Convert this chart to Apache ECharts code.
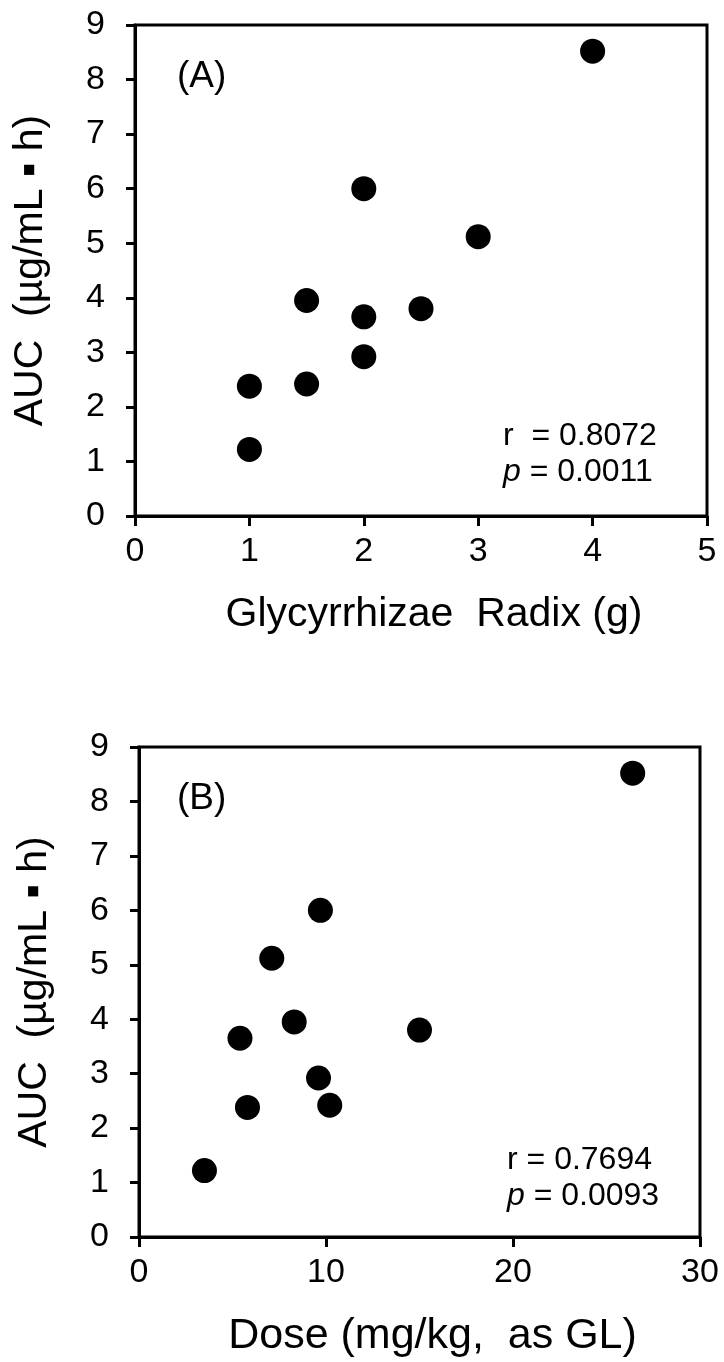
<!DOCTYPE html>
<html>
<head>
<meta charset="utf-8">
<script src="https://cdn.jsdelivr.net/npm/echarts@6/dist/echarts.min.js"></script>
<style>
html,body{margin:0;padding:0;background:#fff;}
#chart{width:724px;height:1362px;}
</style>
</head>
<body>
<div id="chart"></div>
<script>
// Panel A: Glycyrrhizae Radix (g) vs AUC
const radixA = [1, 1, 1.5, 1.5, 2, 2, 2, 2.5, 3, 4];
const aucA   = [1.22, 2.38, 2.42, 3.95, 2.92, 3.65, 6.0, 3.8, 5.12, 8.52];
// Panel B: Dose (mg/kg, as GL) vs AUC
const doseB  = [3.5, 5.8, 10.2, 8.3, 9.6, 5.4, 9.7, 15.0, 7.1, 26.4];
const aucB   = [1.22, 2.38, 2.42, 3.95, 2.92, 3.65, 6.0, 3.8, 5.12, 8.52];

const statsA = { r: '0.8072', p: '0.0011' };
const statsB = { r: '0.7694', p: '0.0093' };

const FONT = "'Liberation Sans', Arial, sans-serif";
const yName = 'AUC  (\u00b5g/mL \u25aa h)';

function pairs(xs, ys){ return xs.map((x,i)=>[x, ys[i]]); }

const axisCommon = {
  axisLine:{show:true, onZero:false, lineStyle:{color:'#000', width:3}},
  axisTick:{show:true, inside:false, length:10, lineStyle:{color:'#000', width:3}},
  splitLine:{show:false},
  nameTextStyle:{color:'#000', fontFamily:FONT, fontSize:41},
  axisLabel:{color:'#000', fontFamily:FONT, fontSize:34}
};

function xAx(grid, min, max, interval, name, size){
  return Object.assign({}, axisCommon, {
    type:'value', gridIndex:grid, min, max, interval,
    name, nameLocation:'middle', nameGap:78,
    nameTextStyle:{color:'#000', fontFamily:FONT, fontSize:size, padding:[0,0,0,26]},
    axisLabel:Object.assign({}, axisCommon.axisLabel, {margin:19})
  });
}
function yAx(grid){
  return Object.assign({}, axisCommon, {
    type:'value', gridIndex:grid, min:0, max:9, interval:1,
    name:yName, nameLocation:'middle', nameGap:84,
    axisLabel:Object.assign({}, axisCommon.axisLabel, {margin:30}),
    axisTick:{show:true, inside:false, length:9, lineStyle:{color:'#000', width:3}}
  });
}

function statText(left, top, stats, rSpace){
  return {
    type:'text', left, top,
    style:{
      text:'{n|r' + rSpace + '= ' + stats.r + '}\n{i|p}{n| = ' + stats.p + '}',
      rich:{
        n:{fontFamily:FONT, fontSize:32, fill:'#000', lineHeight:36},
        i:{fontFamily:FONT, fontSize:32, fontStyle:'italic', fill:'#000', lineHeight:36}
      }
    }
  };
}

const option = {
  backgroundColor:'#fff',
  animation:false,
  grid:[
    {left:135, right:17, top:25, bottom:846, show:true, borderColor:'#000', borderWidth:3, backgroundColor:'transparent'},
    {left:139, right:24, top:747, bottom:125, show:true, borderColor:'#000', borderWidth:3, backgroundColor:'transparent'}
  ],
  xAxis:[
    xAx(0, 0, 5, 1, 'Glycyrrhizae  Radix (g)', 41),
    xAx(1, 0, 30, 10, 'Dose (mg/kg,  as GL)', 43)
  ],
  yAxis:[ yAx(0), yAx(1) ],
  series:[
    {type:'scatter', xAxisIndex:0, yAxisIndex:0, data:pairs(radixA, aucA),
     symbol:'circle', symbolSize:25, itemStyle:{color:'#000', opacity:1}},
    {type:'scatter', xAxisIndex:1, yAxisIndex:1, data:pairs(doseB, aucB),
     symbol:'circle', symbolSize:25, itemStyle:{color:'#000', opacity:1}}
  ],
  graphic:[
    {type:'text', left:177, top:58, style:{text:'(A)', fontFamily:FONT, fontSize:37, fill:'#000'}},
    {type:'text', left:177, top:780, style:{text:'(B)', fontFamily:FONT, fontSize:37, fill:'#000'}},
    statText(503, 420, statsA, '  '),
    statText(507, 1144, statsB, ' ')
  ]
};

const chart = echarts.init(document.getElementById('chart'), null, {renderer:'canvas'});
chart.setOption(option);
</script>
</body>
</html>
